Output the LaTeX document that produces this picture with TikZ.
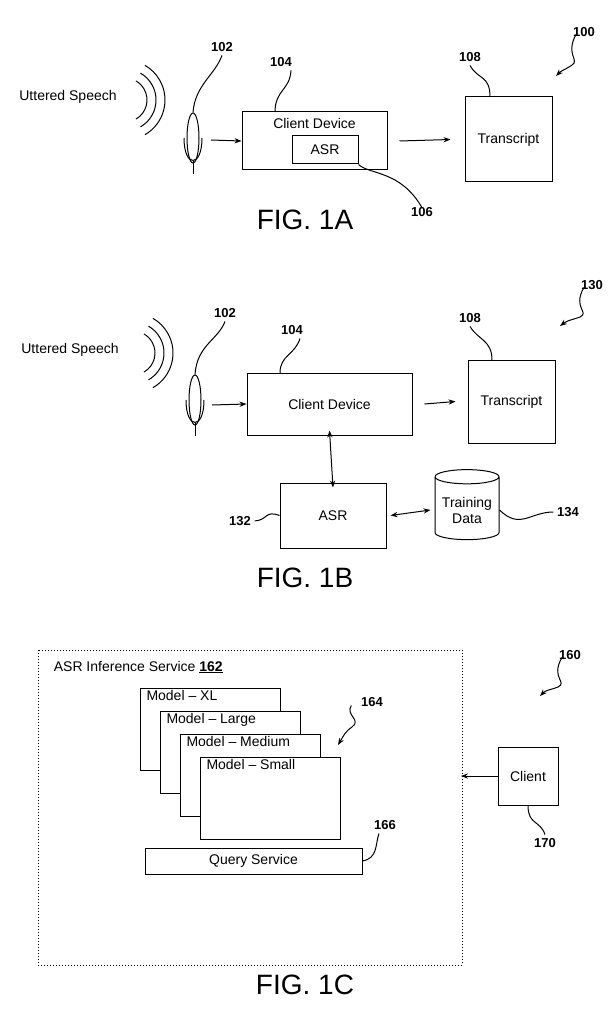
\documentclass[tikz,border=0pt]{standalone}
\usepackage{fontspec}
\setmainfont{Liberation Sans}
\usetikzlibrary{shapes.geometric,positioning,arrows.meta}
\tikzset{
    every picture/.style={line width=1pt},
    box/.style={draw, inner sep=0pt},
    lbl/.style={font=\bfseries\fontsize{13}{14}\selectfont},
    txt/.style={font=\fontsize{14}{16}\selectfont},
    fig/.style={font=\fontsize{28}{32}\selectfont},
    lead/.style={},
    arr/.style={-{Stealth[length=7pt]}},
    darr/.style={{Stealth[length=7pt]}-{Stealth[length=7pt]}},
}
\newcommand{\mic}[3]{% name, x, y
    \node[draw, ellipse, minimum width=12pt, minimum height=50pt] (#1) at (#2,#3) {};
    \draw ([shift={(-9,0)}]#2,#3) .. controls ([shift={(-9,30)}]#2,#3) and ([shift={(9,30)}]#2,#3) .. ([shift={(9,0)}]#2,#3);
    \draw ([shift={(0,23)}]#2,#3) -- ([shift={(0,36)}]#2,#3);
}
\begin{document}
\begin{tikzpicture}[x=1pt, y=-1pt]
\useasboundingbox (0,0) rectangle (612,1024);
% FIG 1A
\node[txt] (speechA) at (68,97) {Uttered Speech};
\foreach \r in {22,31,40}
    \draw (125,100) ++(60:\r) arc[start angle=60, end angle=-60, radius=\r];
\mic{micA}{193}{138}
\node[box, minimum width=145pt, minimum height=58pt] (clientA) at (314.5,141) {};
\node[txt, below=3pt of clientA.north] (clientAt) {Client Device};
\node[box, minimum width=66pt, minimum height=28pt, txt] (asrA) at (325,150) {ASR};
\node[box, minimum width=87pt, minimum height=85pt, txt] (transA) at (508.5,139.5) {Transcript};
\draw[arr] (211,140) -- (clientA.west);
\draw[arr] ([xshift=12]clientA.east) -- ([xshift=-14]transA.west);
\node[lbl] (l102a) at (222,47) {102};
\node[lbl] (l104a) at (281,62) {104};
\node[lbl] (l106a) at (422,212) {106};
\node[lbl] (l108a) at (470,57) {108};
\node[lbl] (l100) at (584,32) {100};
\draw[lead] (l102a.south) .. controls (215,75) and (195,85) .. (micA.north);
\draw[lead] ([xshift=10]l104a.south) .. controls (290,90) and (275,90) .. (275,112);
\draw[lead] (asrA.south east) .. controls (370,175) and (400,170) .. ([yshift=-4]l106a.north);
\draw[lead] (l108a.south) .. controls (478,80) and (490,75) .. (490,97);
\draw[arr] ([xshift=-8,yshift=6]l100.south) .. controls (565,55) and (580,60) .. (572,65) .. controls (565,70) and (562,70) .. (556,76);
\node[fig] (figA) at (305,220) {FIG. 1A};
% FIG 1B
\node[txt] (speechB) at (70,350) {Uttered Speech};
\foreach \r in {22,31,40}
    \draw (133,353) ++(60:\r) arc[start angle=60, end angle=-60, radius=\r];
\mic{micB}{195}{400}
\node[box, minimum width=165pt, minimum height=62pt, txt] (clientB) at (329.5,404) {Client Device};
\node[box, minimum width=87pt, minimum height=83pt, txt] (transB) at (511.5,401.5) {Transcript};
\node[box, minimum width=106pt, minimum height=65pt, txt] (asrB) at (333,515.5) {ASR};
\node[draw, cylinder, shape border rotate=90, aspect=0.25, minimum width=64pt, minimum height=70pt, align=center, txt] (train) at (467,510) {Training\\Data};
\draw[arr] (212,405) -- (clientB.west);
\draw[arr] ([xshift=12]clientB.east) -- ([xshift=-12]transB.west);
\draw[darr] ([yshift=5]clientB.south) -- ([yshift=-5]asrB.north);
\draw[darr] ([xshift=4]asrB.east) -- ([xshift=-4]train.west);
\node[lbl] (l102b) at (225,313) {102};
\node[lbl] (l104b) at (292,330) {104};
\node[lbl] (l108b) at (470,318) {108};
\node[lbl] (l130) at (592,285) {130};
\node[lbl] (l132) at (240,521) {132};
\node[lbl] (l134) at (568,512) {134};
\draw[lead] (l102b.south) .. controls (218,340) and (197,345) .. (micB.north);
\draw[lead] ([xshift=8]l104b.south) .. controls (295,355) and (280,355) .. (280,373);
\draw[lead] (l108b.south) .. controls (478,340) and (492,340) .. (492,360);
\draw[lead] (l132.east) .. controls (268,520) and (265,510) .. (asrB.west);
\draw[lead] (l134.west) .. controls (530,512) and (520,530) .. (train.east);
\draw[arr] ([xshift=-8,yshift=6]l130.south) .. controls (572,308) and (590,312) .. (580,317) .. controls (572,320) and (568,320) .. (560,326);
\node[fig] (figB) at (305,578) {FIG. 1B};
% FIG 1C
\draw[dotted] (38,650) rectangle (462,965);
\node[txt, anchor=west] (svc) at (50,667) {ASR Inference Service \underline{\textbf{162}}};
\foreach \n [count=\i from 0] in {xl, large, medium, small}
    \node[box, fill=white, minimum width=140pt, minimum height=82pt, anchor=north west] (m\n) at (140+20*\i,688+23*\i) {};
\foreach \n/\t in {xl/XL, large/Large, medium/Medium, small/Small}
    \node[txt, anchor=north west, inner sep=2pt, xshift=4pt] at (m\n.north west) {Model -- \t};
\node[box, minimum width=217pt, minimum height=26pt, txt] (query) at (253.5,861) {Query Service};
\node[box, minimum width=60pt, minimum height=58pt, txt] (client) at (528,776) {Client};
\draw[arr] (client.west) -- (461,776);
\node[lbl] (l160) at (570,655) {160};
\node[lbl] (l164) at (372,702) {164};
\node[lbl] (l166) at (385,825) {166};
\node[lbl] (l170) at (545,843) {170};
\draw[lead] ([xshift=-6]l166.south) .. controls (375,845) and (378,858) .. (query.east);
\draw[lead] (client.south) .. controls (528,825) and (540,820) .. (l170.north);
\draw[arr] ([xshift=-6,yshift=5]l164.south west) .. controls (345,715) and (362,720) .. (352,727) .. controls (345,732) and (344,735) .. (338,745);
\draw[arr] ([xshift=-8,yshift=6]l160.south) .. controls (550,678) and (568,682) .. (558,687) .. controls (550,690) and (546,690) .. (540,696);
\node[fig] (figC) at (305,985) {FIG. 1C};
\end{tikzpicture}
\end{document}
